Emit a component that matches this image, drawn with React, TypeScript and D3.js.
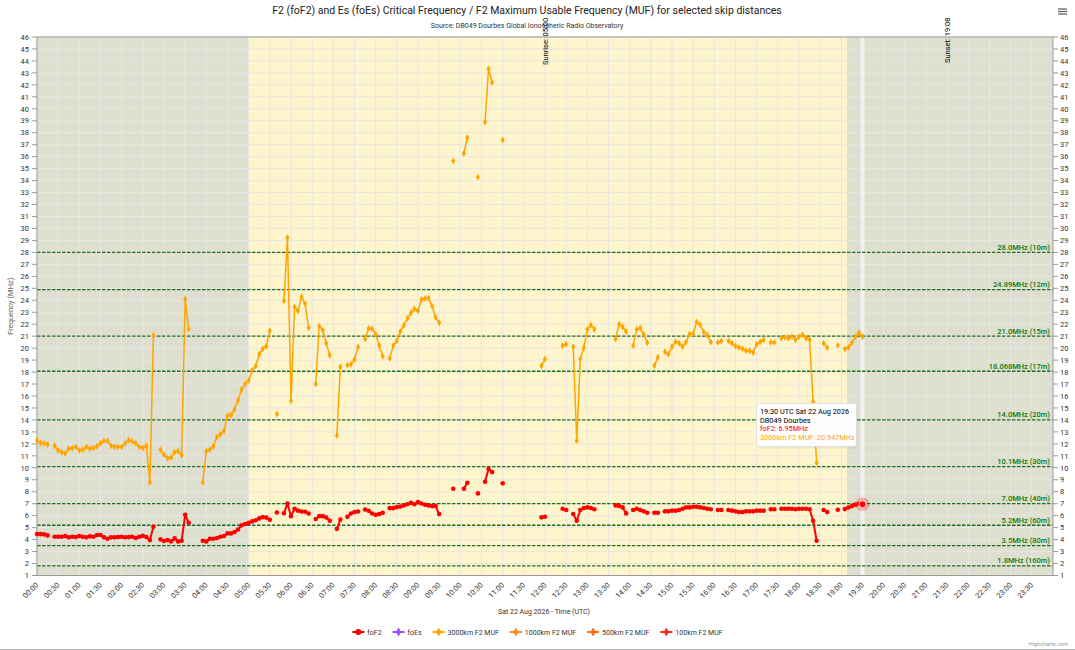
import React from 'react';
import * as d3 from 'd3';

const W = 1075;
const H = 650;
const STEP_MIN = 5;

// foF2 critical frequency (MHz), one value per 5 minutes from 00:00 UTC, null = no data
const foF2: (number | null)[] = [
  4.46, 4.46, 4.44, 4.35, null, 4.24, 4.24, 4.24, 4.3, 4.19,
  4.24, 4.21, 4.3, 4.24, 4.19, 4.27, 4.24, 4.38, 4.38, 4.19,
  4.07, 4.19, 4.19, 4.21, 4.24, 4.19, 4.21, 4.24, 4.13, 4.24,
  4.32, 4.21, 3.96, 5.08, null, 4.02, 3.88, 3.96, 3.85, 4.1,
  3.85, 3.91, 6.08, 5.41, null, null, null, 3.91, 3.85, 4.07,
  4.07, 4.13, 4.24, 4.3, 4.52, 4.52, 4.63, 4.85, 5.2, 5.3,
  5.4, 5.52, 5.62, 5.77, 5.88, 5.84, 5.66, null, 6.27, null,
  6.2, 7.02, 5.96, 6.57, 6.42, 6.35, 6.33, 6.18, null, 5.72,
  5.96, 5.96, 5.85, 5.57, null, 4.9, 5.68, null, 5.9, 6.18,
  6.3, 6.35, null, 6.52, 6.41, 6.18, 6.07, 6.13, 6.24, null,
  6.63, 6.63, 6.71, 6.77, 6.85, 6.96, 7.07, 6.96, 7.13, 7.02,
  6.91, 6.85, 6.8, 6.8, 6.13, null, null, null, 8.25, null,
  null, 8.25, 8.75, null, null, 7.86, null, 8.83, 9.89, 9.64,
  null, null, 8.7, null, null, null, null, null, null, null,
  null, null, null, 5.86, 5.91, null, null, null, null, 6.58,
  6.47, null, 6.14, 5.58, 6.47, 6.64, 6.69, 6.64, 6.53, null,
  null, null, null, null, 6.86, 6.81, 6.69, 6.19, null, 6.47,
  6.58, 6.47, 6.36, 6.25, null, 6.25, 6.25, null, 6.36, 6.36,
  6.42, 6.42, 6.47, 6.58, 6.69, 6.69, 6.75, 6.75, 6.69, 6.64,
  6.58, 6.53, null, 6.47, 6.47, null, 6.47, 6.42, 6.36, 6.3,
  6.3, 6.36, 6.36, 6.36, 6.42, 6.42, 6.42, null, 6.53, 6.53,
  null, 6.58, 6.58, 6.58, 6.58, 6.53, 6.58, 6.58, 6.58, 6.53,
  5.58, 3.9, null, 6.47, 6.3, null, null, 6.5, null, 6.55,
  6.68, 6.8, 6.92, 7.0, 6.95,
];

// 3000km F2 MUF (MHz), same time steps
const muf3000: (number | null)[] = [
  12.3, 12.05, 12.05, 11.95, null, 11.85, 11.45, 11.3, 11.2, 11.6,
  11.65, 11.75, 11.45, 11.5, 11.75, 11.6, 11.65, 11.8, 12.05, 12.25,
  12.25, 11.85, 11.75, 11.75, 11.75, 12.05, 12.3, 12.2, 12.05, 11.75,
  11.65, 11.85, 8.8, 21.05, null, 11.5, 11.1, 10.8, 10.85, 11.3,
  11.4, 11.05, 24.1, 21.6, null, null, null, 8.8, 11.4, 11.5,
  11.8, 12.55, 12.8, 13.1, 14.35, 14.4, 14.9, 15.65, 16.55, 17.0,
  17.3, 18.15, 18.5, 19.5, 19.95, 20.15, 21.45, null, 14.5, null,
  23.95, 29.25, 15.6, 23.45, 23.1, 24.3, 23.7, 21.7, null, 17.0,
  21.85, 21.5, 20.4, 19.4, null, 12.7, 18.44, null, 18.58, 18.66,
  19.05, 20.1, null, 20.78, 21.64, 21.62, 21.17, 20.22, 19.33, null,
  19.16, 20.22, 20.61, 21.39, 21.92, 22.5, 22.95, 23.3, 23.12, 24.07,
  24.15, 24.18, 23.51, 22.56, 22.12, null, null, null, 35.63, null,
  null, 36.27, 37.6, null, null, 34.29, null, 38.89, 43.35, 42.2,
  null, null, 37.39, null, null, null, null, null, null, null,
  null, null, null, 18.53, 19.09, null, null, null, null, 20.2,
  20.32, null, 20.12, 12.27, 19.09, 20.04, 21.57, 21.93, 21.57, null,
  null, null, null, null, 20.76, 21.99, 21.79, 21.37, null, 20.2,
  21.57, 21.68, 21.15, 20.45, null, 18.53, 19.23, null, 19.7, 19.48,
  20.12, 20.54, 20.4, 20.12, 20.51, 21.18, 21.23, 22.18, 21.96, 21.35,
  21.1, 20.51, null, 20.48, 20.59, null, 20.62, 20.4, 20.18, 20.06,
  19.95, 19.79, 19.79, 19.62, 20.32, 20.54, 20.68, null, 20.48, 20.48,
  null, 20.82, 20.9, 20.82, 20.96, 20.68, 20.96, 21.12, 20.82, 20.73,
  15.5, 10.43, null, 20.4, 20.04, null, null, 20.23, null, 19.93,
  20.06, 20.45, 20.96, 21.3, 20.947,
];

// Amateur band reference lines (MHz)
const bandFreqs = [28.0, 24.89, 21.0, 18.068, 14.0, 10.1, 7.0, 5.2, 3.5, 1.8];
const bandLabels = [
  '28.0MHz (10m)', '24.89MHz (12m)', '21.0MHz (15m)', '18.068MHz (17m)', '14.0MHz (20m)',
  '10.1MHz (30m)', '7.0MHz (40m)', '5.2MHz (60m)', '3.5MHz (80m)', '1.8MHz (160m)',
];

// Day/night (hours UTC)
const sunriseHour = 5;
const sunsetHour = 19 + 8 / 60;
const sunriseLabelHour = 12;
const sunsetLabelHour = 21.5;
const hoverIndex = 234;

const yTicks = d3.range(1, 47);
const xTickMinutes = d3.range(0, 24 * 60, 30);

const legendNames = ['foF2', 'foEs', '3000km F2 MUF', '1000km F2 MUF', '500km F2 MUF', '100km F2 MUF'];
const legendColors = ['#ff0000', '#a64dff', '#ffa500', '#ff8c1a', '#ff6a1a', '#ff2a1a'];

const FONT = 'Roboto, "Noto Sans", sans-serif';

function fmtTime(m: number) {
  const h = Math.floor(m / 60);
  const mm = m % 60;
  return `${String(h).padStart(2, '0')}:${String(mm).padStart(2, '0')}`;
}

function measure(text: string, size: number) {
  try {
    const c = document.createElement('canvas').getContext('2d');
    if (c) {
      c.font = `${size}px Roboto`;
      return c.measureText(text).width;
    }
  } catch (e) {}
  return text.length * size * 0.5;
}

export default function App() {
  const left = 37, right = 1053, top = 37, bottom = 575.5;
  const x = d3.scaleLinear().domain([0, 24 * 60]).range([left, right]);
  const y = d3.scaleLinear().domain([1, 46]).range([bottom, top]);

  type P = [number, number | null];
  const redPts: P[] = foF2.map((v, i) => [i * STEP_MIN, v]);
  const orPts: P[] = muf3000.map((v, i) => [i * STEP_MIN, v]);
  const line = d3.line<P>()
    .defined(d => d[1] != null)
    .x(d => x(d[0]))
    .y(d => y(d[1] as number));
  const diamond = d3.symbol().type(d3.symbolDiamond).size(14)() as string;

  // legend layout
  const legendSize = 7;
  const items = legendNames.map((n, i) => ({ n, c: legendColors[i], w: 12 + 3 + measure(n, legendSize) }));
  const gap = 11;
  const total = items.reduce((s, it) => s + it.w, 0) + gap * (items.length - 1);
  let lx = W / 2 - total / 2;
  const legendPos = items.map(it => { const p = lx; lx += it.w + gap; return { ...it, x: p }; });

  const hx = x(hoverIndex * STEP_MIN);
  const hvRed = foF2[hoverIndex] as number;

  return (
    <div style={{ position: 'absolute', left: 0, top: 0 }}>
      <svg width={W} height={H} style={{ display: 'block', fontFamily: FONT }}>
        <rect x={0} y={0} width={W} height={H} fill="#ffffff" />
        {/* title */}
        <text x={527} y={14} textAnchor="middle" fontSize={10.5} fontWeight={400} fill="#222">
          F2 (foF2) and Es (foEs) Critical Frequency / F2 Maximum Usable Frequency (MUF) for selected skip distances
        </text>
        <text x={527} y={28} textAnchor="middle" fontSize={7} fill="#333">
          Source: DB049 Dourbes Global Ionospheric Radio Observatory
        </text>
        {/* menu icon */}
        <g stroke="#666" strokeWidth={1.3}>
          {[9, 11.5, 14].map(yy => <line key={yy} x1={1058} x2={1067} y1={yy} y2={yy} />)}
        </g>

        {/* bands */}
        <rect x={x(0)} y={top} width={x(sunriseHour * 60) - x(0)} height={bottom - top} fill="#dfdfcf" />
        <rect x={x(sunriseHour * 60)} y={top} width={x(sunsetHour * 60) - x(sunriseHour * 60)} height={bottom - top} fill="#fff5cc" />
        <rect x={x(sunsetHour * 60)} y={top} width={x(24 * 60) - x(sunsetHour * 60)} height={bottom - top} fill="#dfdfcf" />

        {/* grid */}
        <g stroke="#e6e6e6" strokeWidth={1}>
          {yTicks.map(t => <line key={'h' + t} x1={left} x2={right} y1={y(t)} y2={y(t)} />)}
          {xTickMinutes.map(m => <line key={'v' + m} x1={x(m)} x2={x(m)} y1={top} y2={bottom} />)}
        </g>

        {/* crosshair */}
        <rect x={hx - 2} y={top} width={4} height={bottom - top} fill="#ffffff" opacity={0.6} />

        {/* band plot lines */}
        {bandFreqs.map((f, i) => (
          <g key={'b' + f}>
            <line x1={left} x2={right} y1={y(f)} y2={y(f)} stroke="#1a6f1a" strokeWidth={1.3} strokeDasharray="3.5,1.5" />
            <text x={right - 3} y={y(f) - 2.5} textAnchor="end" fontSize={7.5} fontWeight={500} fill="#0b7a0b">{bandLabels[i]}</text>
          </g>
        ))}

        {/* border / axes */}
        <rect x={left} y={top} width={right - left} height={bottom - top} fill="none" stroke="#999" strokeWidth={1} />

        {/* y axes */}
        {yTicks.map(t => (
          <g key={'yt' + t}>
            <line x1={left - 5} x2={left} y1={y(t)} y2={y(t)} stroke="#999" />
            <text x={left - 8} y={y(t) + 2.7} textAnchor="end" fontSize={7.5} fill="#333">{t}</text>
            <line x1={right} x2={right + 5} y1={y(t)} y2={y(t)} stroke="#999" />
            <text x={right + 7} y={y(t) + 2.7} textAnchor="start" fontSize={7.5} fill="#333">{t}</text>
          </g>
        ))}
        <text transform={`translate(13,${(top + bottom) / 2}) rotate(-90)`} textAnchor="middle" fontSize={7.5} fill="#666">
          Frequency (MHz)
        </text>

        {/* x axis */}
        {xTickMinutes.map(m => (
          <text key={'xl' + m} transform={`translate(${x(m) + 2},${bottom + 10}) rotate(-45)`} textAnchor="end" fontSize={7.5} fill="#333">
            {fmtTime(m)}
          </text>
        ))}
        <text x={544} y={614} textAnchor="middle" fontSize={7} fill="#333">Sat 22 Aug 2026 - Time (UTC)</text>

        {/* sunrise / sunset labels */}
        <text transform={`translate(${x(sunriseLabelHour * 60) + 3},${65}) rotate(-90)`} fontSize={7.5} fill="#000">
          Sunrise: 05:00
        </text>
        <text transform={`translate(${x(sunsetLabelHour * 60) + 3},${63}) rotate(-90)`} fontSize={7.5} fill="#000">
          Sunset: 19:08
        </text>

        {/* MUF 3000km */}
        <path d={line(orPts) || ''} fill="none" stroke="#ffa500" strokeWidth={1.5} strokeLinejoin="round" />
        {orPts.filter(p => p[1] != null).map(p => (
          <path key={'o' + p[0]} d={diamond} transform={`translate(${x(p[0])},${y(p[1] as number)})`} fill="#ffa500" />
        ))}

        {/* foF2 */}
        <path d={line(redPts) || ''} fill="none" stroke="#ff0000" strokeWidth={2} strokeLinejoin="round" />
        {redPts.filter(p => p[1] != null).map(p => (
          <circle key={'r' + p[0]} cx={x(p[0])} cy={y(p[1] as number)} r={2.3} fill="#ff0000" />
        ))}
        <circle cx={hx} cy={y(hvRed)} r={7} fill="#ff0000" opacity={0.25} />
        <circle cx={hx} cy={y(hvRed)} r={3.5} fill="#ff0000" stroke="#ffffff" strokeWidth={0.8} />

        {/* tooltip */}
        <g>
          <rect x={757.5} y={404.5} width={100} height={44} rx={3} fill="#000" opacity={0.05} />
          <rect x={756.5} y={403.5} width={100} height={43} rx={3} fill="#ffffff" stroke="#e0e0e0" strokeWidth={1} opacity={0.97} />
          <text x={760} y={414} fontSize={7.3} fill="#000">19:30 UTC Sat 22 Aug 2026</text>
          <text x={760} y={422.7} fontSize={7.3} fill="#000">DB049 Dourbes</text>
          <text x={760} y={431.4} fontSize={7.3} fill="#ff0000">foF2: 6.95MHz</text>
          <text x={760} y={440.1} fontSize={7.3} fill="#ffa500">3000km F2 MUF: 20.947MHz</text>
        </g>

        {/* legend */}
        {legendPos.map((it, i) => (
          <g key={'lg' + i}>
            <line x1={it.x} x2={it.x + 12} y1={632} y2={632} stroke={it.c} strokeWidth={2} />
            {i === 0
              ? <circle cx={it.x + 6} cy={632} r={3} fill={it.c} />
              : <path d={diamond} transform={`translate(${it.x + 6},632) scale(1.3)`} fill={it.c} />}
            <text x={it.x + 15} y={634.5} fontSize={legendSize} fill="#333">{it.n}</text>
          </g>
        ))}

        <text x={1068} y={646} textAnchor="end" fontSize={5.5} fill="#999">Highcharts.com</text>
        <line x1={0} x2={W} y1={649.5} y2={649.5} stroke="#bbb" strokeWidth={1} />
      </svg>
    </div>
  );
}
